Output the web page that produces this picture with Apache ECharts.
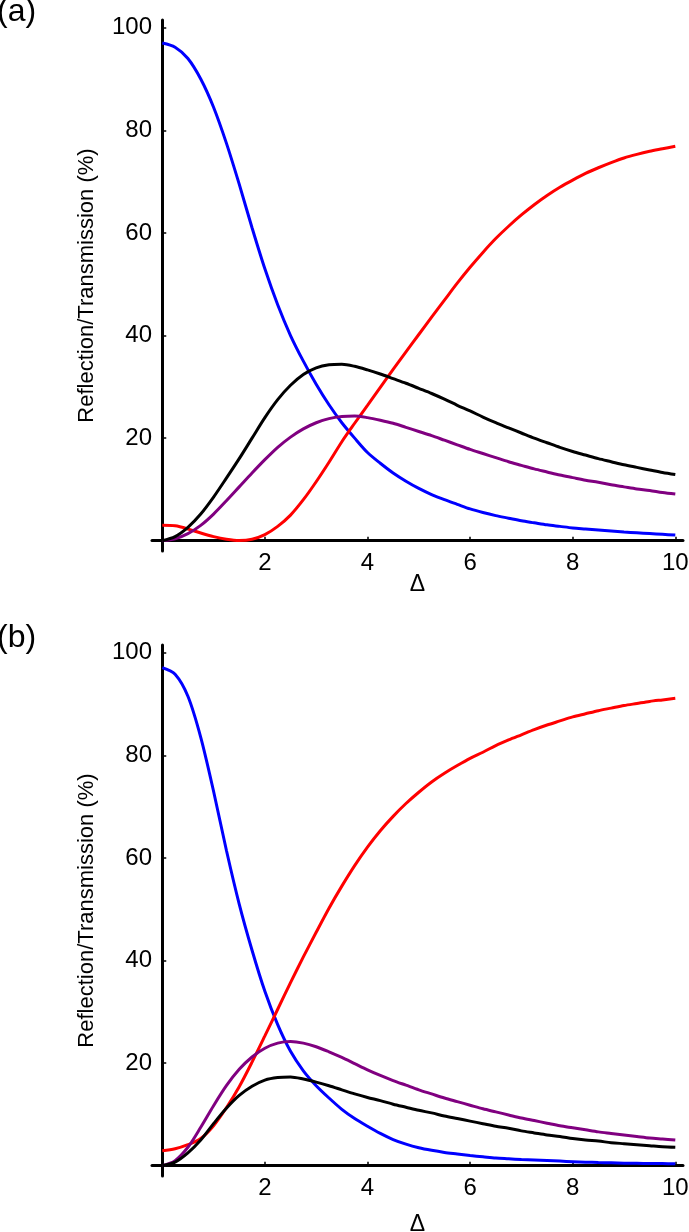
<!DOCTYPE html>
<html>
<head>
<meta charset="utf-8">
<script src="https://cdn.jsdelivr.net/npm/echarts@6/dist/echarts.min.js"></script>
<style>
  html, body { margin: 0; padding: 0; background: #fff; }
  #chart { width: 689px; height: 1232px; }
</style>
</head>
<body>
<div id="chart"></div>
<script>
// detuning, step 0.25 from 0 to 10, shared by both panels
const delta = [0, 0.25, 0.5, 0.75, 1, 1.25, 1.5, 1.75, 2, 2.25, 2.5, 2.75, 3, 3.25, 3.5, 3.75, 4, 4.25, 4.5, 4.75, 5,
  5.25, 5.5, 5.75, 6, 6.25, 6.5, 6.75, 7, 7.25, 7.5, 7.75, 8, 8.25, 8.5, 8.75, 9, 9.25, 9.5, 9.75, 10]

// panel (a)
const blueA = [97.0, 96.2, 94.0, 90.0, 84.5, 77.5, 69.5, 61.0, 53.0, 46.0, 40.0, 35.0, 30.5, 26.5, 23.0, 20.0, 17.2, 15.1, 13.2, 11.6, 10.2,
  9.0, 8.0, 7.1, 6.2, 5.5, 4.9, 4.4, 3.9, 3.5, 3.1, 2.8, 2.5, 2.3, 2.1, 1.9, 1.7, 1.55, 1.4, 1.25, 1.1]
const redA = [3.0, 2.9, 2.3, 1.5, 0.8, 0.3, 0.05, 0.3, 1.2, 2.8, 5.0, 8.0, 11.5, 15.3, 19.3, 22.9, 26.4, 29.9, 33.4, 36.8, 40.2,
  43.6, 46.9, 50.2, 53.3, 56.2, 58.9, 61.3, 63.5, 65.5, 67.3, 68.9, 70.3, 71.6, 72.7, 73.7, 74.6, 75.3, 75.9, 76.4, 76.9]
const blackA = [0, 0.8, 2.6, 5.2, 8.5, 12.2, 16.0, 20.0, 24.0, 27.5, 30.3, 32.4, 33.7, 34.3, 34.4, 34.0, 33.3, 32.5, 31.6, 30.7, 29.7,
  28.7, 27.6, 26.4, 25.3, 24.1, 23.0, 22.0, 21.0, 20.0, 19.1, 18.2, 17.4, 16.7, 16.0, 15.4, 14.8, 14.3, 13.8, 13.3, 12.9]
const purpleA = [0, 0.4, 1.4, 3.0, 5.2, 7.8, 10.5, 13.2, 15.8, 18.2, 20.2, 21.8, 23.0, 23.8, 24.2, 24.3, 24.0, 23.5, 22.9, 22.1, 21.3,
  20.5, 19.6, 18.7, 17.8, 17.0, 16.2, 15.4, 14.7, 14.0, 13.4, 12.8, 12.3, 11.8, 11.4, 10.9, 10.5, 10.1, 9.8, 9.4, 9.1]

// panel (b)
const blueB = [97.1, 95.8, 91.5, 83.5, 73.0, 61.5, 51.0, 42.0, 34.0, 27.5, 22.3, 18.5, 15.6, 13.2, 11.0, 9.2, 7.7, 6.3, 5.1, 4.2, 3.5,
  3.0, 2.6, 2.3, 2.0, 1.75, 1.5, 1.35, 1.2, 1.1, 1.0, 0.9, 0.8, 0.7, 0.62, 0.56, 0.5, 0.47, 0.44, 0.42, 0.4]
const redB = [2.9, 3.3, 4.1, 5.3, 7.8, 11.3, 15.4, 20.2, 25.3, 30.5, 35.7, 40.7, 45.5, 50.2, 54.5, 58.5, 62.1, 65.3, 68.1, 70.6, 72.8,
  74.8, 76.5, 78.0, 79.4, 80.6, 81.9, 83.0, 84.0, 85.0, 85.9, 86.7, 87.5, 88.1, 88.7, 89.2, 89.7, 90.1, 90.5, 90.8, 91.1]
const blackB = [0, 0.7, 2.5, 5.0, 8.2, 11.2, 13.7, 15.5, 16.7, 17.2, 17.3, 16.9, 16.3, 15.6, 14.8, 14.0, 13.3, 12.7, 12.0, 11.4, 10.8,
  10.3, 9.7, 9.2, 8.7, 8.2, 7.7, 7.3, 6.8, 6.4, 6.0, 5.7, 5.3, 5.0, 4.8, 4.5, 4.3, 4.1, 3.9, 3.7, 3.6]
const purpleB = [0, 1.0, 3.6, 7.5, 11.7, 15.6, 18.8, 21.2, 22.9, 23.9, 24.2, 23.9, 23.2, 22.2, 21.1, 19.9, 18.7, 17.6, 16.6, 15.7, 14.8,
  14.0, 13.2, 12.5, 11.8, 11.1, 10.5, 9.9, 9.3, 8.8, 8.3, 7.8, 7.4, 7.0, 6.6, 6.3, 6.0, 5.7, 5.4, 5.2, 5.0]

const xTicks = [2, 4, 6, 8, 10]
const yTicks = [20, 40, 60, 80, 100]

const font = 'Liberation Sans, Arial, sans-serif'

function pairs(ys) {
  return delta.map((x, i) => [x, ys[i]])
}

function xAxisFor(gridIndex, gap) {
  return {
    type: 'value',
    gridIndex: gridIndex,
    min: -0.2,
    max: 10.15,
    name: 'Δ',
    nameLocation: 'middle',
    nameGap: gap,
    nameMoveOverlap: false,
    nameTextStyle: { fontFamily: font, fontSize: 23, color: '#000' },
    axisLine: { onZero: true, lineStyle: { color: '#000', width: 3 } },
    axisTick: { inside: true, length: 4, customValues: xTicks, lineStyle: { color: '#000', width: 1.5 } },
    axisLabel: { customValues: xTicks, margin: 0, fontFamily: font, fontSize: 24, color: '#000' },
    splitLine: { show: false }
  }
}

function yAxisFor(gridIndex) {
  return {
    type: 'value',
    gridIndex: gridIndex,
    min: -2,
    max: 101.5,
    name: 'Reflection/Transmission (%)',
    nameLocation: 'middle',
    nameGap: 54,
    nameTextStyle: { fontFamily: font, fontSize: 22, color: '#000' },
    axisLine: { onZero: true, lineStyle: { color: '#000', width: 3 } },
    axisTick: { inside: true, length: 4, customValues: yTicks, lineStyle: { color: '#000', width: 1.5 } },
    axisLabel: { customValues: yTicks, margin: 0, fontFamily: font, fontSize: 24, color: '#000' },
    splitLine: { show: false }
  }
}

function curve(data, color, idx) {
  return {
    type: 'line',
    xAxisIndex: idx,
    yAxisIndex: idx,
    data: pairs(data),
    smooth: 0.3,
    showSymbol: false,
    symbol: 'none',
    lineStyle: { color: color, width: 3 },
    animation: false
  }
}

const chart = echarts.init(document.getElementById('chart'))

chart.setOption({
  backgroundColor: '#fff',
  animation: false,
  grid: [
    { left: 152, top: 20, width: 531, height: 531, outerBoundsMode: 'none' },
    { left: 152, top: 645, width: 531, height: 531, outerBoundsMode: 'none' }
  ],
  xAxis: [xAxisFor(0, 22), xAxisFor(1, 37)],
  yAxis: [yAxisFor(0), yAxisFor(1)],
  graphic: [
    { type: 'text', left: -3, top: -4, style: { text: '(a)', fontFamily: font, fontSize: 32, fill: '#000' } },
    { type: 'text', left: -3, top: 622, style: { text: '(b)', fontFamily: font, fontSize: 32, fill: '#000' } }
  ],
  series: [
    curve(blueA, '#0000ff', 0),
    curve(redA, '#ff0000', 0),
    curve(purpleA, '#800080', 0),
    curve(blackA, '#000000', 0),
    curve(blueB, '#0000ff', 1),
    curve(redB, '#ff0000', 1),
    curve(purpleB, '#800080', 1),
    curve(blackB, '#000000', 1)
  ]
})
</script>
</body>
</html>
